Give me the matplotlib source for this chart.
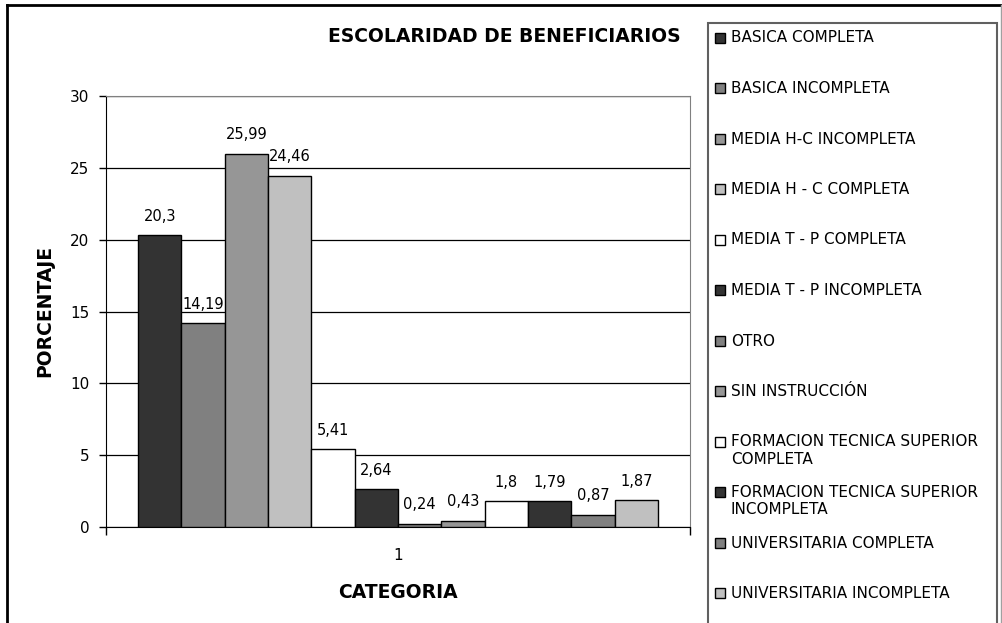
import numpy as np
import matplotlib
matplotlib.use("Agg")
import matplotlib.pyplot as plt
from matplotlib.lines import Line2D
from matplotlib.patches import Rectangle

# data
series = ["BASICA COMPLETA", "BASICA INCOMPLETA", "MEDIA H-C INCOMPLETA",
          "MEDIA H - C COMPLETA", "MEDIA T - P COMPLETA", "MEDIA T - P INCOMPLETA",
          "OTRO", "SIN INSTRUCCIÓN", "FORMACION TECNICA SUPERIOR\nCOMPLETA",
          "FORMACION TECNICA SUPERIOR\nINCOMPLETA", "UNIVERSITARIA COMPLETA",
          "UNIVERSITARIA INCOMPLETA"]
values = [20.3, 14.19, 25.99, 24.46, 5.41, 2.64, 0.24, 0.43, 1.8, 1.79, 0.87, 1.87]
colors = ["#333333", "#808080", "#969696", "#c0c0c0", "#ffffff", "#333333",
          "#808080", "#969696", "#ffffff", "#333333", "#808080", "#c0c0c0"]
category = ["1"]
yticks = [0, 5, 10, 15, 20, 25, 30]

W, H = 1003, 623
fig = plt.figure(figsize=(W / 100, H / 100), dpi=100)


def px(x, y):
    # pixel position (from top-left) -> figure fraction
    return x / W, 1 - y / H


ax = fig.add_axes([106 / W, 1 - 527 / H, 584 / W, 431 / H])
n = len(values)
offsets = np.arange(n) - (n - 1) / 2
bars = ax.bar(offsets, values, width=1.0, color=colors, edgecolor="black",
              linewidth=1.0, zorder=3)
for b, v in zip(bars, values):
    ax.annotate(f"{v:g}".replace(".", ","), (b.get_x() + b.get_width() / 2, v),
                xytext=(0, 13.7), textcoords="offset points",
                ha="center", va="center", fontsize=10.5)

half = n / 2 + 0.738
ax.set_xlim(-half, half)
ax.set_ylim(0, 30)
ax.set_yticks(yticks)
ax.yaxis.grid(True, color="black", linewidth=0.9)
ax.set_axisbelow(True)
ax.tick_params(axis="y", direction="out", length=5, width=1, pad=7, labelsize=11)

ax.set_xticks([0])
ax.set_xticklabels(category)
ax.set_xticks([-half, half], minor=True)
ax.tick_params(axis="x", which="major", length=0, pad=15, labelsize=11)
ax.tick_params(axis="x", which="minor", length=6, width=1, direction="out")

for s in ["top", "right"]:
    ax.spines[s].set_color("#808080")
for s in ["left", "bottom"]:
    ax.spines[s].set_color("black")

ax.set_xlabel("CATEGORIA", fontsize=13.5, fontweight="bold", va="center")
ax.xaxis.set_label_coords(0.5, (527 - 592) / 431)
ax.set_ylabel("PORCENTAJE", fontsize=13.5, fontweight="bold", va="center", ha="center")
ax.yaxis.set_label_coords((45 - 106) / 584, (527 - 311) / 431)

fig.text(*px(504, 37), "ESCOLARIDAD DE BENEFICIARIOS", ha="center", va="center",
         fontsize=13.5, fontweight="bold")

# legend box
fig.add_artist(Rectangle(px(708, 640), 289 / W, (640 - 22.7) / H,
                         transform=fig.transFigure, fill=False,
                         edgecolor="#606060", linewidth=1.5))
for i, (name, c) in enumerate(zip(series, colors)):
    yc = 37.5 + i * 50.5
    fig.add_artist(Rectangle(px(715, yc + 5), 10 / W, 10 / H,
                             transform=fig.transFigure, facecolor=c,
                             edgecolor="black", linewidth=1))
    fig.text(*px(731, yc - 7), name, ha="left", va="top", fontsize=11,
             linespacing=1.2)

# outer frame
fig.add_artist(Line2D([7.5 / W, 7.5 / W], [0, 1 - 4.7 / H], color="black", linewidth=2))
fig.add_artist(Line2D([7 / W, 1001 / W], [1 - 4.7 / H, 1 - 4.7 / H], color="black", linewidth=2))
fig.add_artist(Line2D([1001.5 / W, 1001.5 / W], [0, 1 - 4.7 / H], color="#a0a0a0", linewidth=1))

fig.savefig("out.png", dpi=100)
